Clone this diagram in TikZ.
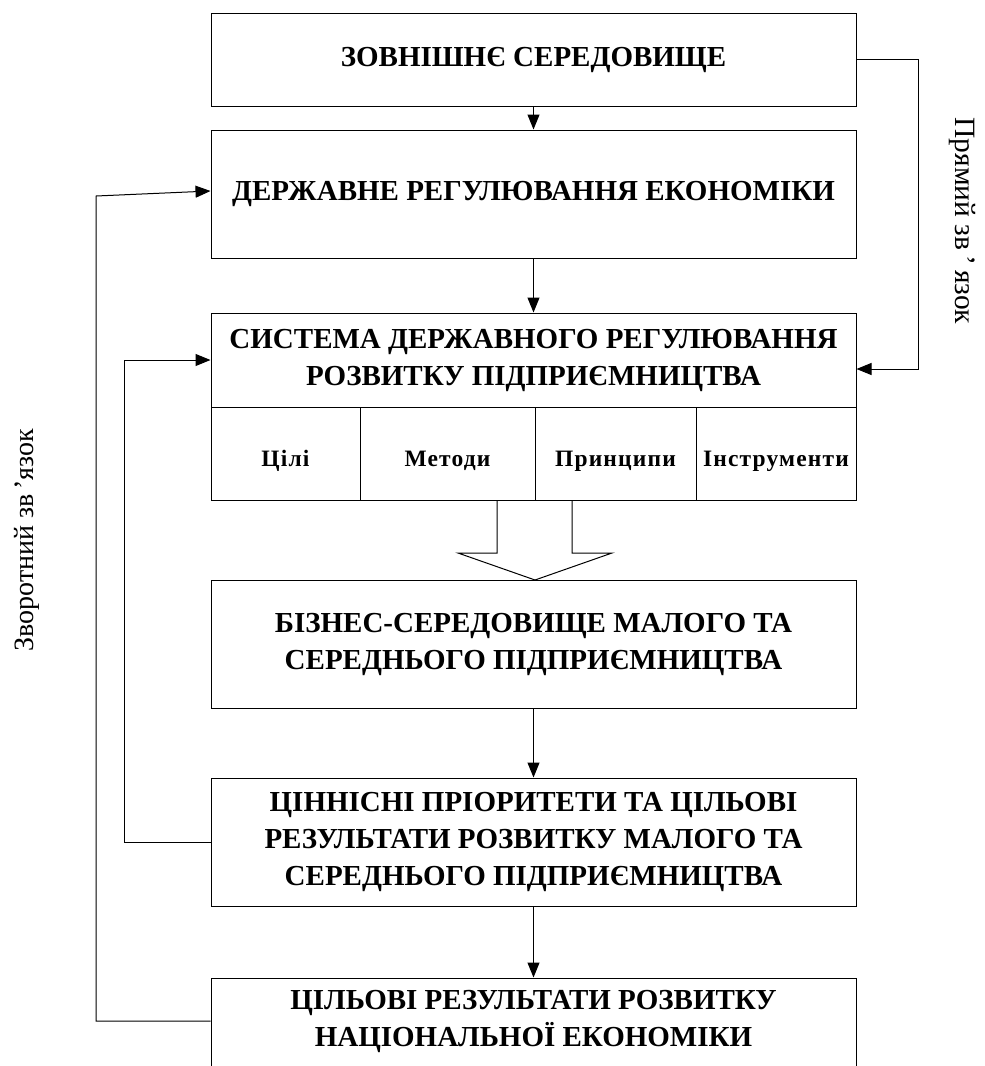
\documentclass[tikz,border=0pt]{standalone}
\usepackage{fontspec}
\setmainfont{Liberation Serif}
\usetikzlibrary{arrows.meta}
\tikzset{
 box/.style={draw, line width=1pt, minimum width=645pt, inner sep=0pt, align=center,
   font=\fontsize{29}{37}\selectfont\bfseries},
 cell/.style={draw, line width=1pt, minimum height=93pt, inner sep=0pt, text height=25pt, text depth=0pt,
   font=\fontsize{23.5}{28}\selectfont\bfseries\addfontfeature{LetterSpace=5}},
 conn/.style={line width=1pt, -{Triangle[length=15pt,width=12pt]}},
 plain/.style={line width=1pt},
 lab/.style={font=\fontsize{28}{32}\selectfont}
}
\begin{document}
\begin{tikzpicture}[x=1pt,y=-1pt]
\useasboundingbox (0,0) rectangle (985,1066);
\clip (0,0) rectangle (985,1066);
\node[box, minimum height=93pt] (b1) at (533.5,59.5) {ЗОВНІШНЄ СЕРЕДОВИЩЕ};
\node[box, minimum height=128pt] (b2) at (533.5,194) {ДЕРЖАВНЕ РЕГУЛЮВАННЯ ЕКОНОМІКИ};
\node[box, minimum height=94pt] (b3) at (533.5,360) {СИСТЕМА ДЕРЖАВНОГО РЕГУЛЮВАННЯ\\РОЗВИТКУ ПІДПРИЄМНИЦТВА};
\node[cell, minimum width=149pt] (c1) at (285.5,453.5) {Цілі};
\node[cell, minimum width=175pt] (c2) at (447.5,453.5) {Методи};
\node[cell, minimum width=161pt] (c3) at (615.5,453.5) {Принципи};
\node[cell, minimum width=160pt] (c4) at (776,453.5) {Інструменти};
\node[box, minimum height=128pt] (b4) at (533.5,644) {БІЗНЕС-СЕРЕДОВИЩЕ МАЛОГО ТА\\СЕРЕДНЬОГО ПІДПРИЄМНИЦТВА};
\node[box, minimum height=128pt] (b5) at (533.5,842) {ЦІННІСНІ ПРІОРИТЕТИ ТА ЦІЛЬОВІ\\РЕЗУЛЬТАТИ РОЗВИТКУ МАЛОГО ТА\\СЕРЕДНЬОГО ПІДПРИЄМНИЦТВА};
\draw[plain] (211,1100) -- (211,978) -- (856,978) -- (856,1100);
\node[box, draw=none, minimum height=86pt] (b6) at (533.5,1021) {ЦІЛЬОВІ РЕЗУЛЬТАТИ РОЗВИТКУ\\НАЦІОНАЛЬНОЇ ЕКОНОМІКИ};
% hollow arrow
\draw[plain] (497,500) -- (497,553) -- (458,553) -- (535,580) -- (612,553) -- (572,553) -- (572,500);
% straight connectors
\draw[conn] (b1.south) -- (b2.north);
\draw[conn] (b2.south) -- (b3.north);
\draw[conn] (b4.south) -- (b5.north);
\draw[conn] (b5.south) -- (b6.north);
% direct link
\coordinate (rt) at (918,59.5);
\draw[conn] (b1.east) -- (rt) |- ([yshift=-9pt]b3.east);
% feedback links
\coordinate (lo) at (96,196);
\draw[conn] (b6.west) -| (lo) -- ([yshift=3pt]b2.west);
\coordinate (li) at (124,360);
\draw[conn] (b5.west) -| (li) -- (b3.west);
% labels
\node[lab, font=\fontsize{29.5}{32}\selectfont, rotate=-90] (lp) at (962,221) {Прямий зв\,’\,язок};
\node[lab, rotate=90] (lz) at (27,540) {Зворотний зв\,’язок};
\end{tikzpicture}
\end{document}
